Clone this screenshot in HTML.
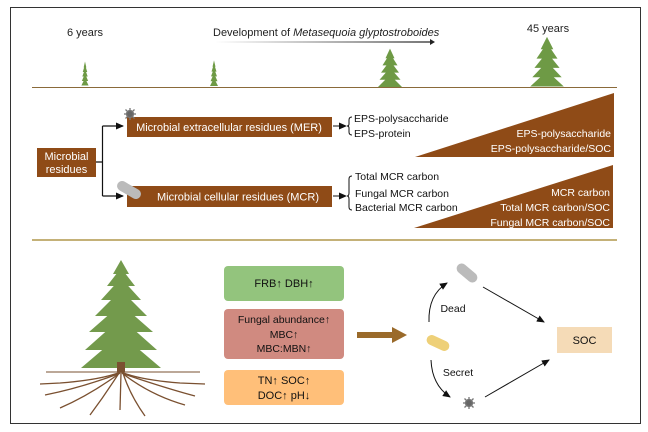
<!DOCTYPE html>
<html><head><meta charset="utf-8"><style>
html,body{margin:0;padding:0;background:#fff;}
svg{display:block;font-family:"Liberation Sans",sans-serif;}
</style></head><body>
<svg width="648" height="432" viewBox="0 0 648 432" xmlns="http://www.w3.org/2000/svg">
<defs>
<marker id="ah" markerWidth="8" markerHeight="8" refX="7" refY="4" orient="auto" markerUnits="userSpaceOnUse"><path d="M0,0.5 L8,4 L0,7.5 Z" fill="#111"/></marker>
<linearGradient id="ag" gradientUnits="userSpaceOnUse" x1="215" y1="0" x2="432" y2="0"><stop offset="0" stop-color="#fff"/><stop offset="1" stop-color="#222"/></linearGradient>
<g id="tree"><path d="M0,-1 L-3,3 L3,3 Z M0,1 L-5,6 L5,6 Z M0,4 L-6,9 L6,9 Z M0,7 L-7,12 L7,12 Z M0,10 L-8,15 L8,15 Z" fill="#6e9a45"/></g>
</defs>
<rect x="10.5" y="7.5" width="630" height="416" fill="#fff" stroke="#333" stroke-width="1"/>
<text x="85" y="36" font-size="11" text-anchor="middle" fill="#222">6 years</text>
<text x="213" y="36" font-size="11" fill="#222">Development of <tspan font-style="italic">Metasequoia glyptostroboides</tspan></text>
<line x1="215" y1="42" x2="432" y2="42" stroke="url(#ag)" stroke-width="1.2"/>
<path d="M430,39 L435,42 L430,45 Z" fill="#222"/>
<text x="548" y="32" font-size="11" text-anchor="middle" fill="#222">45 years</text>
<g transform="translate(85,63) scale(0.45,1.5)"><use href="#tree"/></g>
<g transform="translate(214,62) scale(0.5,1.6)"><use href="#tree"/></g>
<g transform="translate(390,51) scale(1.5,2.4)"><use href="#tree"/></g>
<g transform="translate(547,40) scale(2.1,3.1)"><use href="#tree"/></g>
<line x1="32" y1="87.5" x2="617" y2="87.5" stroke="#8a6a3a" stroke-width="1"/>
<rect x="37" y="148" width="59" height="29" fill="#8f4b17"/>
<text x="66.5" y="160" font-size="11" fill="#fff" text-anchor="middle">Microbial</text>
<text x="66.5" y="173" font-size="11" fill="#fff" text-anchor="middle">residues</text>
<path d="M96,162 L102.5,162 M102.5,126 L102.5,196" stroke="#111" stroke-width="1.2" fill="none"/>
<line x1="102.5" y1="126" x2="123" y2="126" stroke="#111" stroke-width="1.2" marker-end="url(#ah)"/>
<line x1="102.5" y1="196" x2="123" y2="196" stroke="#111" stroke-width="1.2" marker-end="url(#ah)"/>
<rect x="127" y="117" width="205" height="20" fill="#8f4b17"/>
<text x="229" y="131" font-size="11" fill="#fff" text-anchor="middle">Microbial extracellular residues (MER)</text>
<rect x="127" y="186" width="205" height="21" fill="#8f4b17"/>
<text x="238" y="200.5" font-size="11" fill="#fff" text-anchor="middle">Microbial cellular residues (MCR)</text>
<g transform="translate(130,114)" stroke="#777" stroke-width="1.3"><line x1="-6" y1="0" x2="6" y2="0"/><line x1="0" y1="-6" x2="0" y2="6"/><line x1="-4.5" y1="-4.5" x2="4.5" y2="4.5"/><line x1="-4.5" y1="4.5" x2="4.5" y2="-4.5"/><circle r="3.5" fill="#666"/></g>
<rect x="116" y="185" width="26" height="10" rx="5" fill="#bbb" transform="rotate(30 129 190)"/>
<line x1="333" y1="126" x2="346" y2="126" stroke="#111" stroke-width="1" marker-end="url(#ah)"/>
<path d="M352,117 Q349,117 349,120 L349,124 Q349,126 347,126 Q349,126 349,128 L349,132 Q349,135 352,135" stroke="#111" fill="none"/>
<text x="354" y="122" font-size="10.5" fill="#111">EPS-polysaccharide</text>
<text x="354" y="137" font-size="10.5" fill="#111">EPS-protein</text>
<line x1="333" y1="196" x2="346" y2="196" stroke="#111" stroke-width="1" marker-end="url(#ah)"/>
<path d="M352,176 Q349,176 349,179 L349,193 Q349,196 347,196 Q349,196 349,199 L349,207 Q349,210 352,210" stroke="#111" fill="none"/>
<text x="355" y="180" font-size="10.5" fill="#111">Total MCR carbon</text>
<text x="355" y="197" font-size="10.5" fill="#111">Fungal MCR carbon</text>
<text x="355" y="211" font-size="10.5" fill="#111">Bacterial MCR carbon</text>
<path d="M415,157 L614,93 L614,157 Z" fill="#8f4b17"/>
<text x="611" y="137" font-size="10.5" fill="#fff" text-anchor="end">EPS-polysaccharide</text>
<text x="611" y="152" font-size="10.5" fill="#fff" text-anchor="end">EPS-polysaccharide/SOC</text>
<path d="M414,228 L613,165 L613,228 Z" fill="#8f4b17"/>
<text x="610" y="196" font-size="10.5" fill="#fff" text-anchor="end">MCR carbon</text>
<text x="610" y="211" font-size="10.5" fill="#fff" text-anchor="end">Total MCR carbon/SOC</text>
<text x="610" y="226" font-size="10.5" fill="#fff" text-anchor="end">Fungal MCR carbon/SOC</text>
<line x1="32" y1="240" x2="617" y2="240" stroke="#a08228" stroke-width="1.3"/>
<g transform="translate(121,260)">
<path d="M0,0 L-8,14 L8,14 Z M0,8 L-14,26 L14,26 Z M0,18 L-20,40 L20,40 Z M0,30 L-26,56 L26,56 Z M0,44 L-32,72 L32,72 Z M0,58 L-36,90 L36,90 Z M0,74 L-40,108 L40,108 Z" fill="#739a4c"/>
<rect x="-4" y="102" width="8" height="10" fill="#7a5030"/>
</g>
<line x1="46" y1="372" x2="200" y2="372" stroke="#7a5030" stroke-width="1"/>
<g stroke="#7a5030" fill="none" stroke-width="1.3">
<path d="M121,372 Q100,380 60,383 L40,384"/><path d="M121,372 Q140,380 180,383 L205,384"/>
<path d="M120,373 Q90,395 60,408"/><path d="M122,373 Q150,395 185,405"/>
<path d="M119,373 Q105,395 90,415"/><path d="M123,373 Q130,395 145,416"/>
<path d="M121,373 L120,410"/><path d="M118,374 Q80,388 45,395"/><path d="M124,374 Q165,388 195,396"/>
</g>
<rect x="224" y="266" width="120" height="35" rx="4" fill="#93c47d"/>
<text x="284" y="287" font-size="11" fill="#111" text-anchor="middle">FRB↑ DBH↑</text>
<rect x="224" y="309" width="120" height="50" rx="4" fill="#d08a80"/>
<text x="284" y="323" font-size="10.5" fill="#111" text-anchor="middle">Fungal abundance↑</text>
<text x="284" y="338" font-size="10.5" fill="#111" text-anchor="middle">MBC↑</text>
<text x="284" y="352" font-size="10.5" fill="#111" text-anchor="middle">MBC:MBN↑</text>
<rect x="224" y="370" width="120" height="35" rx="4" fill="#ffbf79"/>
<text x="284" y="384" font-size="11" fill="#111" text-anchor="middle">TN↑ SOC↑</text>
<text x="284" y="399" font-size="11" fill="#111" text-anchor="middle">DOC↑ pH↓</text>
<path d="M357,332 L392,332 L392,327 L407,335 L392,343 L392,338 L357,338 Z" fill="#9a6a2a"/>
<rect x="426" y="338" width="24" height="10" rx="5" fill="#eed078" transform="rotate(25 438 343)"/>
<rect x="455" y="268" width="24" height="10" rx="5" fill="#bbb" transform="rotate(40 467 273)"/>
<g transform="translate(469,403)" stroke="#777" stroke-width="1.3"><line x1="-6" y1="0" x2="6" y2="0"/><line x1="0" y1="-6" x2="0" y2="6"/><line x1="-4.5" y1="-4.5" x2="4.5" y2="4.5"/><line x1="-4.5" y1="4.5" x2="4.5" y2="-4.5"/><circle r="3.5" fill="#666"/></g>
<g stroke="#111" stroke-width="1" fill="none">
<path d="M429,322 Q428,295 447,283" marker-end="url(#ah)"/>
<path d="M431,360 Q432,385 450,397" marker-end="url(#ah)"/>
<line x1="483" y1="287" x2="544" y2="322" marker-end="url(#ah)"/>
<line x1="485" y1="397" x2="549" y2="360" marker-end="url(#ah)"/>
</g>
<text x="453" y="312" font-size="10.5" fill="#111" text-anchor="middle">Dead</text>
<text x="458" y="376" font-size="10.5" fill="#111" text-anchor="middle">Secret</text>
<rect x="557" y="327" width="55" height="26" fill="#f5dbb7"/>
<text x="584.5" y="344" font-size="11" fill="#111" text-anchor="middle">SOC</text>
</svg>
</body></html>
